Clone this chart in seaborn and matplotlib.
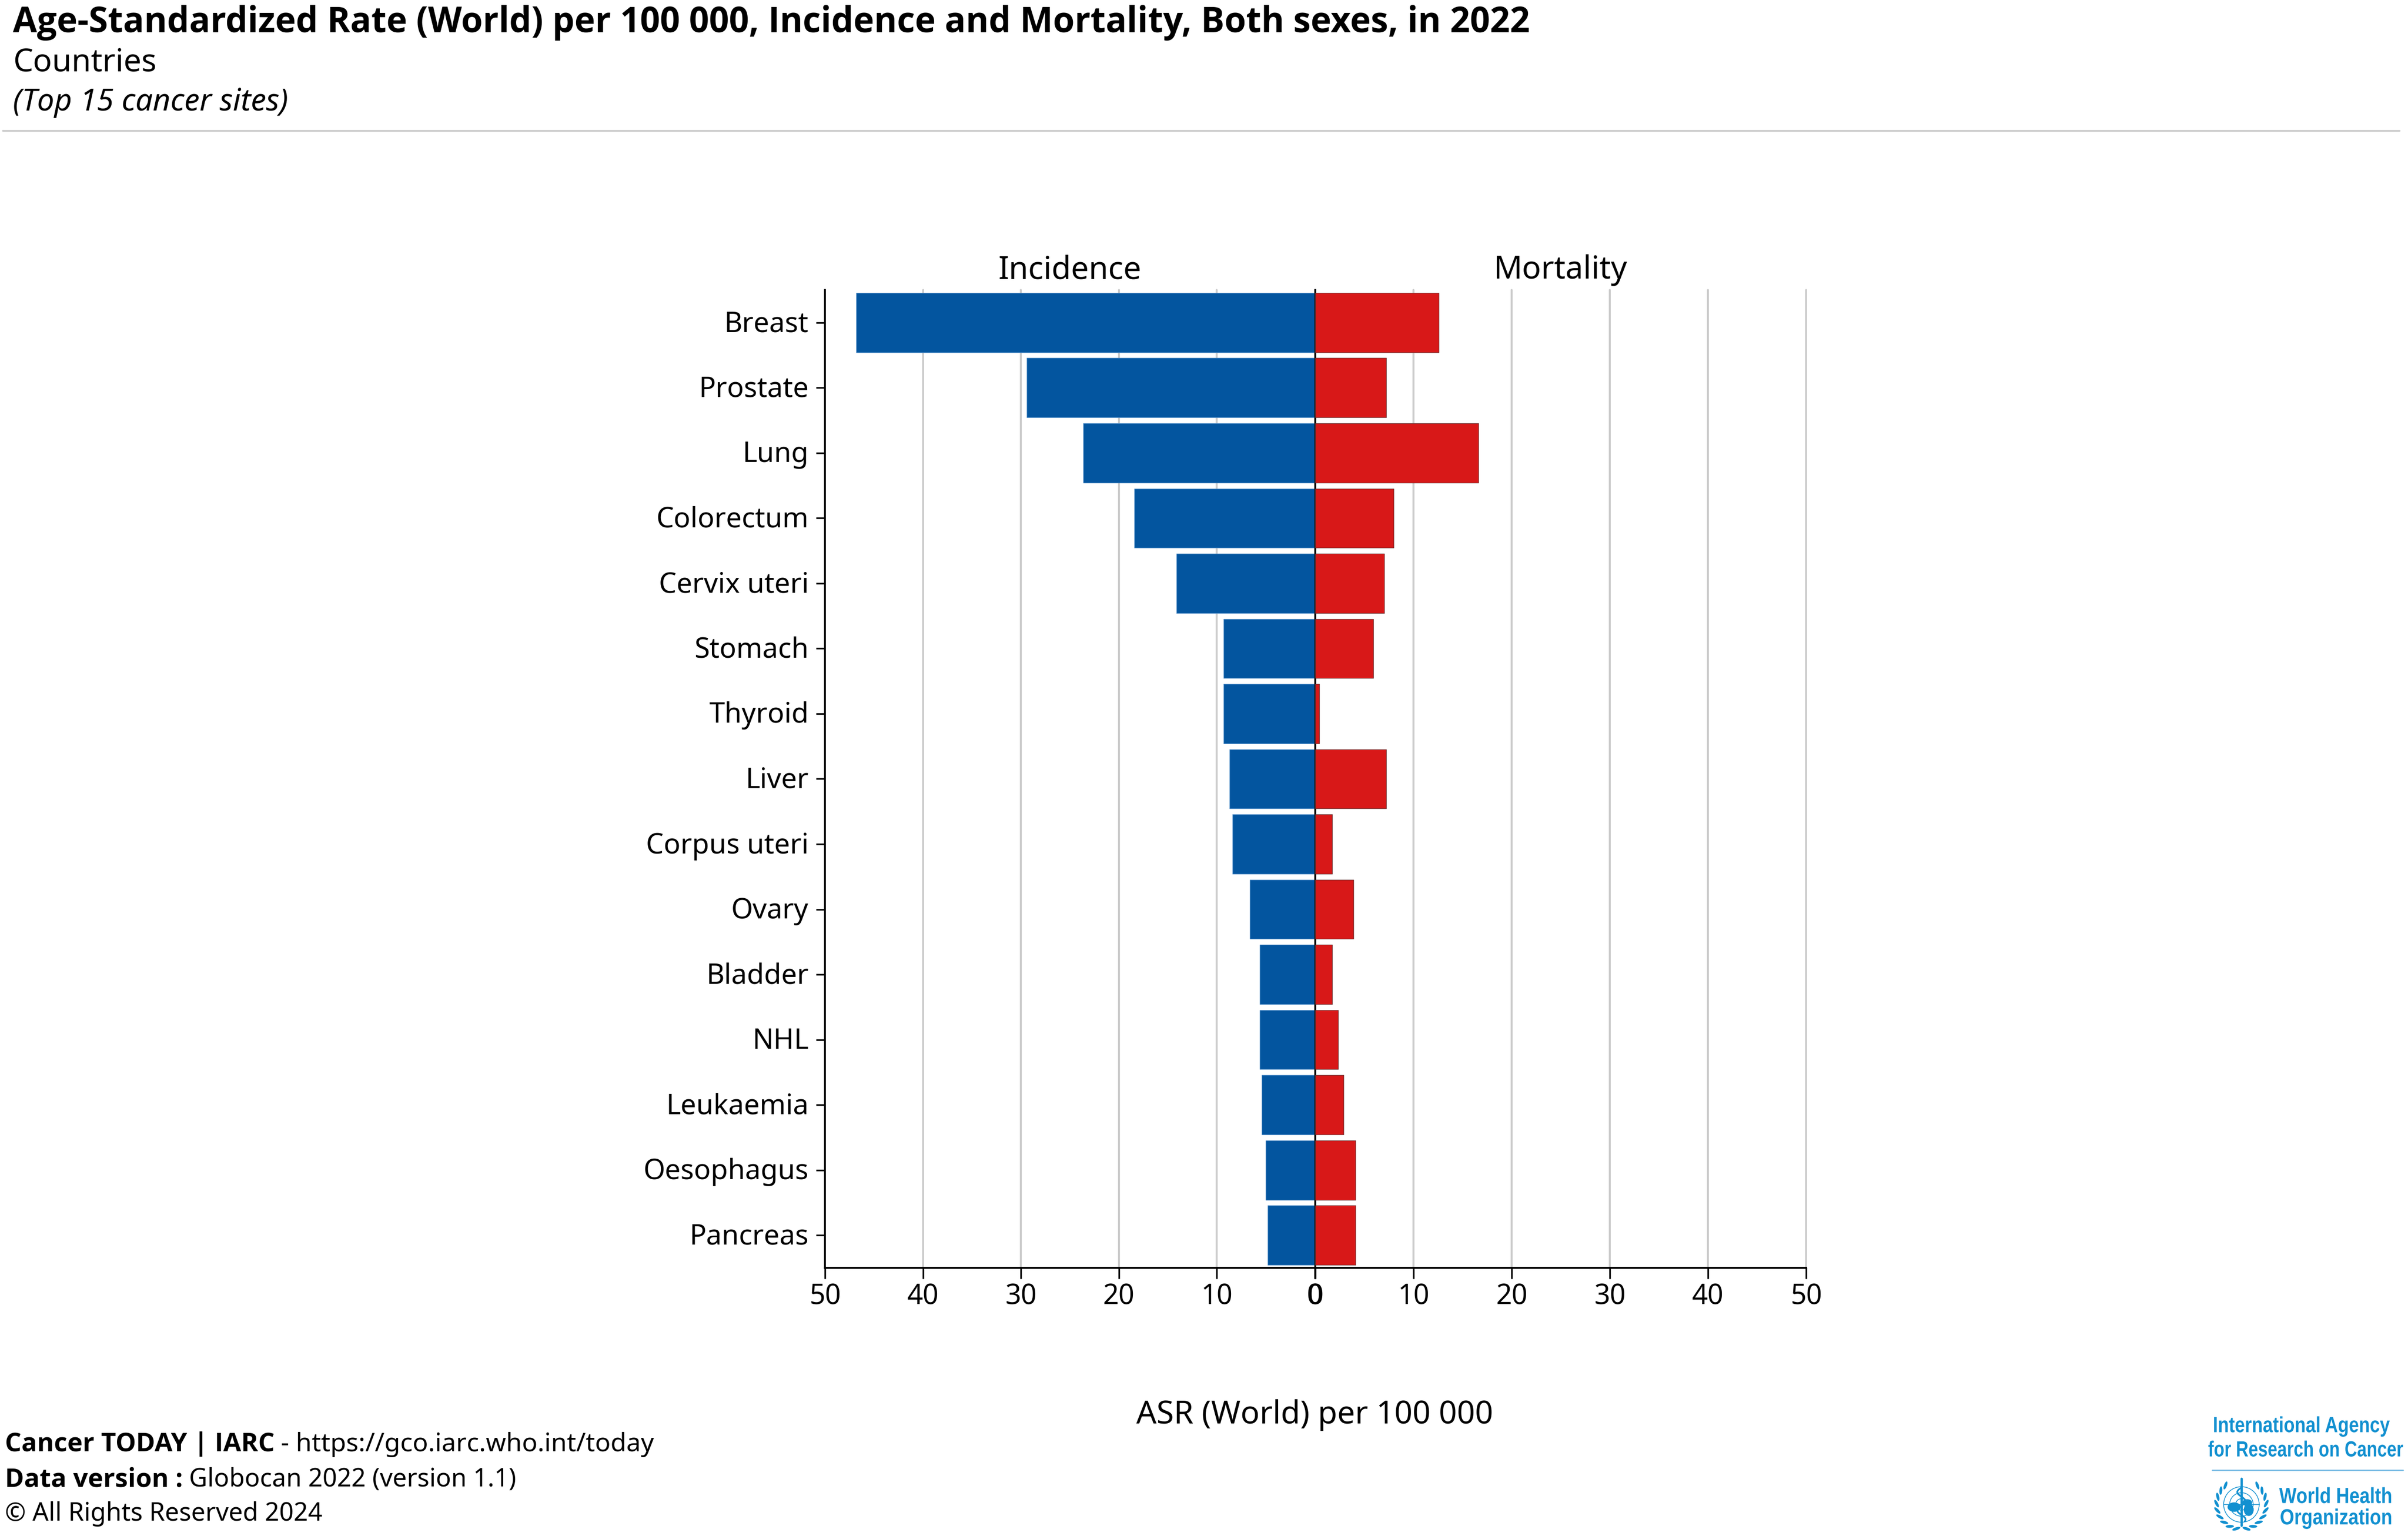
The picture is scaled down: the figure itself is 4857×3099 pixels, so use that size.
import numpy as np
import pandas as pd
import matplotlib
matplotlib.use("Agg")
import matplotlib.pyplot as plt
from matplotlib.patches import Circle, Ellipse
from matplotlib.patheffects import AbstractPathEffect
from matplotlib.transforms import Affine2D, ScaledTranslation
import seaborn as sns

sites = ["Breast", "Prostate", "Lung", "Colorectum", "Cervix uteri", "Stomach", "Thyroid", "Liver",
         "Corpus uteri", "Ovary", "Bladder", "NHL", "Leukaemia", "Oesophagus", "Pancreas"]
incidence = [46.8, 29.4, 23.6, 18.4, 14.1, 9.3, 9.3, 8.7, 8.4, 6.6, 5.6, 5.6, 5.4, 5.0, 4.8]
mortality = [12.6, 7.2, 16.6, 8.0, 7.0, 5.9, 0.4, 7.2, 1.7, 3.9, 1.7, 2.3, 2.9, 4.1, 4.1]
x_ticks = [0, 10, 20, 30, 40, 50]

W, H = 4857, 3099
DPI = 300
BLUE, RED = "#03559F", "#D81818"
LOGO = "#1290D0"
FONT = ["Noto Sans", "DejaVu Sans"]
BOLD = ["Open Sans", "DejaVu Sans"]

sns.set_theme(style="white")
plt.rcParams["font.family"] = FONT

fig = plt.figure(figsize=(W / DPI, H / DPI), dpi=DPI, facecolor="white")


def box(x0, y0, x1, y1):
    return [x0 / W, 1 - y1 / H, (x1 - x0) / W, (y1 - y0) / H]


def ft(x, y, s, **kw):
    return fig.text(x / W, 1 - y / H, s, **kw)


class Squeeze(AbstractPathEffect):
    """Condense a text horizontally about its right edge (pixel x0)."""

    def __init__(self, x0, factor):
        super().__init__()
        self.x0, self.factor = x0, factor

    def draw_path(self, renderer, gc, tpath, affine, rgbFace=None):
        squeeze = Affine2D().translate(-self.x0, 0).scale(self.factor, 1).translate(self.x0, 0)
        renderer.draw_path(gc, tpath, affine + squeeze, rgbFace)


ax_l = fig.add_axes(box(1664, 585, 2651.5, 2558))
ax_r = fig.add_axes(box(2653, 585, 3643, 2558))
df = pd.DataFrame({"site": sites, "inc": incidence, "mor": mortality})

sns.barplot(data=df, y="site", x="inc", order=sites, color=BLUE, saturation=1, width=0.91,
            edgecolor="#4F8CC6", linewidth=0.3, ax=ax_l, zorder=3)
sns.barplot(data=df, y="site", x="mor", order=sites, color=RED, saturation=1, width=0.91,
            edgecolor="#7A3A3A", linewidth=0.3, ax=ax_r, zorder=3)

ax_l.set_xlim(50, 0)
ax_r.set_xlim(0, 50)
for ax in (ax_l, ax_r):
    ax.set_ylim(14.5, -0.5)
    ax.set_xticks(x_ticks)
    ax.set_xlabel("")
    ax.set_ylabel("")
    ax.xaxis.grid(True, color="#CCCCCC", linewidth=0.95, clip_on=False)
    ax.yaxis.grid(False)
    ax.set_axisbelow(True)
    ax.patch.set_alpha(0)
    for s in ax.spines.values():
        s.set_color("black")
        s.set_linewidth(0.85)
    ax.spines["bottom"].set_linewidth(1.0)
    ax.spines["top"].set_visible(False)
    ax.tick_params(axis="x", length=5.3, width=0.8, color="black", labelsize=13.4, pad=2,
                   labelcolor="black", bottom=True)
ax_l.spines["right"].set_visible(False)
ax_r.spines["right"].set_visible(False)
ax_l.tick_params(axis="y", length=4.4, width=0.8, color="black", labelsize=13.5, pad=3.5,
                 labelcolor="black", left=True)
ax_r.tick_params(axis="y", left=False, labelleft=False)
ax_r.set_zorder(ax_l.get_zorder() + 1)
for lab in ax_l.get_yticklabels():
    lab.set_transform(lab.get_transform() + ScaledTranslation(0, 3 / DPI, fig.dpi_scale_trans))

ax_l.set_title("Incidence", fontsize=15.3, pad=5.5, color="black")
ax_r.set_title("Mortality", fontsize=15.3, pad=5.5, color="black")

ft(2652, 2855, "ASR (World) per 100 000", fontsize=15.3, ha="center", va="center", color="black")

ft(26, 46, "Age-Standardized Rate (World) per 100 000, Incidence and Mortality, Both sexes, in 2022",
   fontsize=16.93, fontweight="bold", family=BOLD, va="center", color="black")
ft(26, 127, "Countries", fontsize=15.3, va="center", color="black")
ft(26, 207, "(Top 15 cancer sites)", fontsize=14.8, style="italic", va="center", color="black")
fig.add_artist(plt.Line2D([6 / W, 4840 / W], [1 - 264 / H] * 2, color="#CCCCCC", linewidth=0.9))

renderer = fig.canvas.get_renderer()
for y, bold, rest, size in [(2928, "Cancer TODAY | IARC", " - https://gco.iarc.who.int/today", 12.45),
                            (2999, "Data version :", " Globocan 2022 (version 1.1)", 12.2)]:
    t = ft(10, y, bold, fontsize=12.5, fontweight="bold", family=BOLD, va="baseline", color="black")
    x1 = t.get_window_extent(renderer).x1
    ft(x1 - 1, y, rest, fontsize=size, va="baseline", color="black")
ft(10, 3068, "© All Rights Reserved 2024", fontsize=12.2, va="baseline", color="black")

# Logo block, bottom right
NARROW = ["Liberation Sans", "DejaVu Sans"]
for x, y, label, squeeze in [(4820, 2878, "International Agency", 0.82),
                             (4847, 2927, "for Research on Cancer", 0.79),
                             (4825, 3021, "World Health", 0.84),
                             (4825, 3064, "Organization", 0.84)]:
    ft(x, y, label, fontsize=10.6, fontweight="bold", family=NARROW, color=LOGO, va="center", ha="right",
       path_effects=[Squeeze(x, squeeze)])
fig.add_artist(plt.Line2D([4462 / W, 4847 / W], [1 - 2966 / H] * 2, color="#6DB6E2", linewidth=0.6))

ax_e = fig.add_axes(box(4458, 2980, 4584, 3096))
ax_e.set_xlim(-1.1, 1.1)
ax_e.set_ylim(-1.1, 1.1)
ax_e.set_aspect("equal")
ax_e.axis("off")
for r in (0.68, 0.45, 0.22):
    ax_e.add_patch(Circle((0, 0.05), r, fill=False, ec=LOGO, lw=0.35))
ax_e.plot([-0.68, 0.68], [0.05, 0.05], color=LOGO, lw=0.35)
ax_e.plot([0, 0], [-0.75, 1.05], color=LOGO, lw=1.1)
ax_e.add_patch(Ellipse((-0.28, -0.05), 0.42, 0.28, color=LOGO))
ax_e.add_patch(Ellipse((0.28, -0.15), 0.3, 0.4, color=LOGO))
ax_e.add_patch(Ellipse((0.22, 0.12), 0.3, 0.18, color=LOGO))
serpent = np.linspace(-0.6, 0.7, 60)
ax_e.plot(0.16 * np.sin(serpent * 9), serpent, color=LOGO, lw=0.8)
for side in (-1, 1):
    for a in np.deg2rad(np.arange(-78, 66, 16)):
        ax_e.add_patch(Ellipse((side * 0.95 * np.cos(a), 0.05 + 0.95 * np.sin(a)), 0.32, 0.11,
                               angle=side * (np.rad2deg(a) + 60), color=LOGO, lw=0))

fig.savefig("out.png", dpi=DPI, facecolor="white")
